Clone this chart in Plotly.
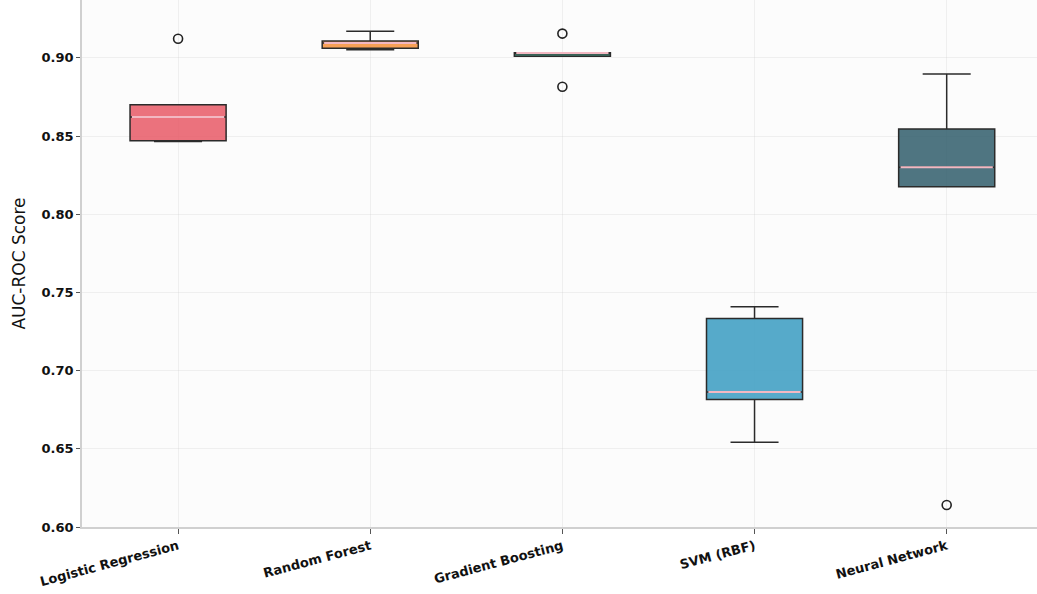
import numpy as np
import plotly.graph_objects as go

# Cross-validation AUC-ROC scores per model (5 folds each)
models = ["Logistic Regression", "Random Forest", "Gradient Boosting", "SVM (RBF)", "Neural Network"]
lr_scores = [0.8465, 0.8470, 0.8622, 0.8700, 0.9122]
rf_scores = [0.9052, 0.9062, 0.9095, 0.9108, 0.9170]
gb_scores = [0.8815, 0.9010, 0.9031, 0.9033, 0.9155]
svm_scores = [0.6542, 0.6816, 0.6863, 0.7334, 0.7409]
nn_scores = [0.6141, 0.8176, 0.8300, 0.8545, 0.8896]
scores = [lr_scores, rf_scores, gb_scores, svm_scores, nn_scores]

fill_colors = [
    "rgba(232, 95, 107, 0.88)",
    "rgba(246, 152, 72, 0.92)",
    "rgba(52, 140, 118, 0.90)",
    "rgba(72, 163, 198, 0.92)",
    "rgba(55, 98, 111, 0.88)",
]
median_color = "#F2B8C2"
box_width = 0.5

fig = go.Figure()

for i, (name, vals, col) in enumerate(zip(models, scores, fill_colors)):
    fig.add_trace(go.Box(
        x=[i] * len(vals),
        y=vals,
        name=name,
        width=box_width,
        whiskerwidth=0.5,
        quartilemethod="inclusive",
        boxpoints="outliers",
        fillcolor=col,
        line=dict(color="#2b2b2b", width=1.5),
        marker=dict(symbol="circle-open", size=9, color="#222222",
                    line=dict(width=1.6, color="#222222")),
        showlegend=False,
    ))
    med = float(np.median(vals))
    fig.add_trace(go.Scatter(
        x=[i - box_width / 2 + 0.01, i + box_width / 2 - 0.01],
        y=[med, med],
        mode="lines",
        line=dict(color=median_color, width=2),
        showlegend=False,
        hoverinfo="skip",
    ))

fig.update_layout(
    width=1037,
    height=594,
    margin=dict(l=82, r=0, t=0, b=67),
    paper_bgcolor="white",
    plot_bgcolor="#FCFCFC",
    font=dict(family="DejaVu Sans", size=13, color="#111111"),
)

fig.update_xaxes(
    range=[-0.5, 4.47],
    automargin=False,
    tickmode="array",
    tickvals=list(range(len(models))),
    ticktext=models,
    tickangle=-15,
    ticks="outside",
    ticklen=5,
    tickcolor="#555555",
    showgrid=True,
    gridcolor="rgba(200,200,200,0.25)",
    gridwidth=1,
    showline=True,
    linecolor="#D0D0D0",
    linewidth=1.5,
    zeroline=False,
    tickfont=dict(size=13, color="#111111", weight="bold"),
)

fig.update_yaxes(
    range=[0.60, 0.937],
    automargin=False,
    tickmode="array",
    tickvals=[0.60, 0.65, 0.70, 0.75, 0.80, 0.85, 0.90],
    ticktext=["0.60", "0.65", "0.70", "0.75", "0.80", "0.85", "0.90"],
    ticks="outside",
    ticklen=4,
    tickcolor="#555555",
    showgrid=True,
    gridcolor="rgba(200,200,200,0.25)",
    gridwidth=1,
    showline=True,
    linecolor="#D0D0D0",
    linewidth=1.5,
    zeroline=False,
    title=dict(text="AUC-ROC Score", font=dict(size=17, color="#111111"), standoff=12),
    tickfont=dict(size=13, color="#111111", weight="bold"),
)

fig.write_html("out.html")
